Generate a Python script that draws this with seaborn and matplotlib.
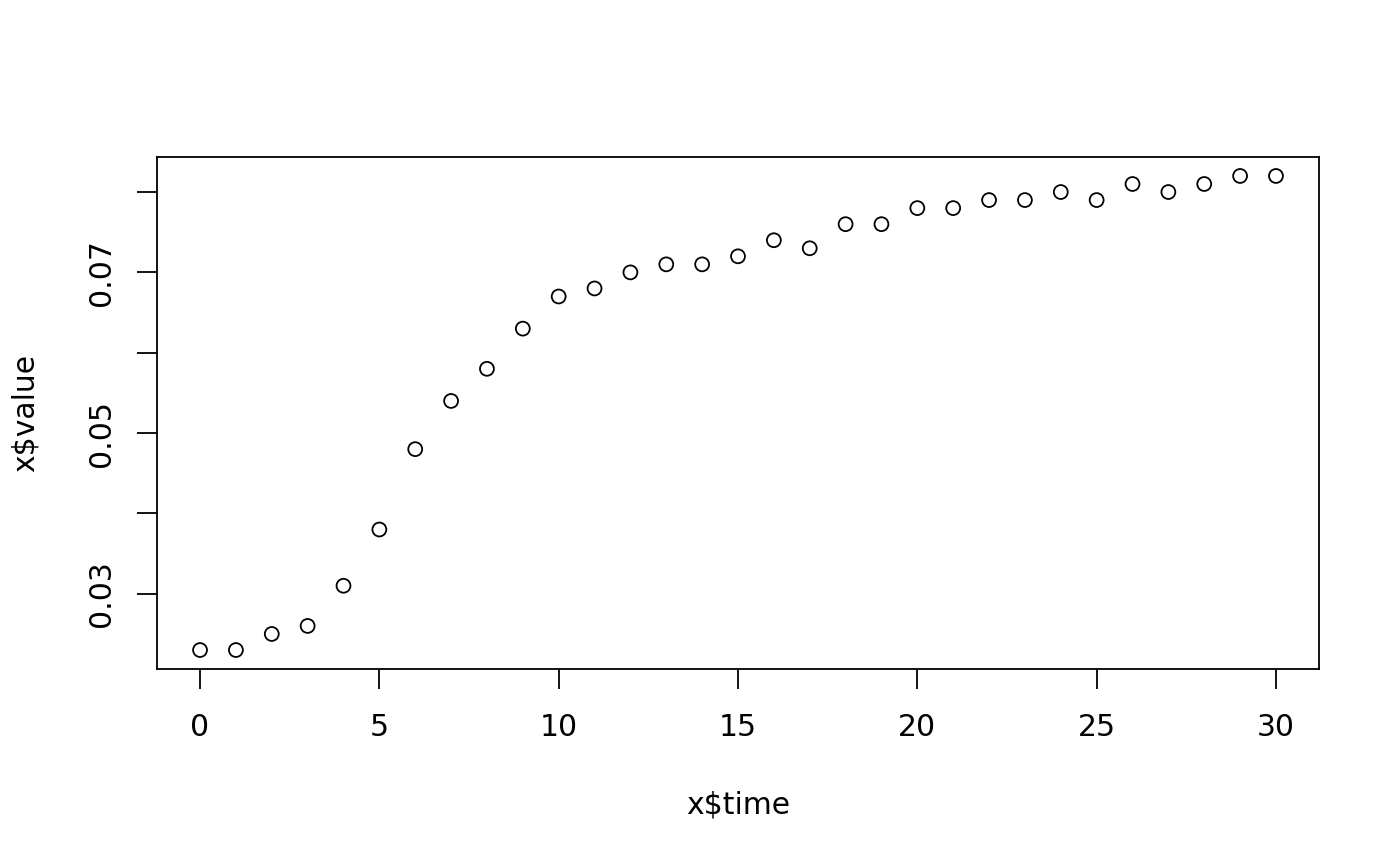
import numpy as np
import pandas as pd
import matplotlib
matplotlib.use("Agg")
import matplotlib.pyplot as plt
import seaborn as sns

# values
time = list(range(0, 31))
value = [0.023, 0.023, 0.025, 0.026, 0.031, 0.038, 0.048, 0.054, 0.058, 0.063,
         0.067, 0.068, 0.070, 0.071, 0.071, 0.072, 0.074, 0.073, 0.076, 0.076,
         0.078, 0.078, 0.079, 0.079, 0.080, 0.079, 0.081, 0.080, 0.081, 0.082,
         0.082]
x_ticks = [0, 5, 10, 15, 20, 25, 30]
y_ticks = [0.03, 0.04, 0.05, 0.06, 0.07, 0.08]
y_tick_labels = ["0.03", "", "0.05", "", "0.07", ""]

df = pd.DataFrame({"time": time, "value": value})

sns.set_theme(style="ticks")
plt.rcParams["font.family"] = ["DejaVu Sans"]

fig = plt.figure(figsize=(14, 8.66), dpi=100)
ax = fig.add_axes([157 / 1400, 1 - 669 / 866, 1162 / 1400, 512 / 866])

sns.scatterplot(data=df, x="time", y="value", ax=ax, marker="o", s=100,
                facecolors="none", edgecolor="black", linewidth=1.3)

# R style 4% padding
xr = max(time) - min(time)
yr = max(value) - min(value)
ax.set_xlim(min(time) - 0.04 * xr, max(time) + 0.04 * xr)
ax.set_ylim(min(value) - 0.04 * yr, max(value) + 0.04 * yr)

ax.set_xticks(x_ticks)
ax.set_xticklabels([str(t) for t in x_ticks])
ax.set_yticks(y_ticks)
ax.set_yticklabels(y_tick_labels, rotation=90, va="center")

ax.tick_params(axis="both", direction="out", length=14.4, width=1.3,
               color="black", labelsize=21.5, labelcolor="black")
ax.tick_params(axis="x", pad=17)
ax.tick_params(axis="y", pad=15)

for side in ["top", "right", "bottom", "left"]:
    ax.spines[side].set_visible(True)
    ax.spines[side].set_color("black")
    ax.spines[side].set_linewidth(1.3)

ax.set_xlabel("x$time", fontsize=21.5, color="black")
ax.set_ylabel("x$value", fontsize=21.5, color="black")
ax.xaxis.set_label_coords(0.5, -(805 - 669) / 512)
ax.yaxis.set_label_coords((25 - 157) / 1162, 0.5)
ax.xaxis.label.set_va("center")
ax.yaxis.label.set_va("center")

fig.savefig("out.png", dpi=100, facecolor="white")
